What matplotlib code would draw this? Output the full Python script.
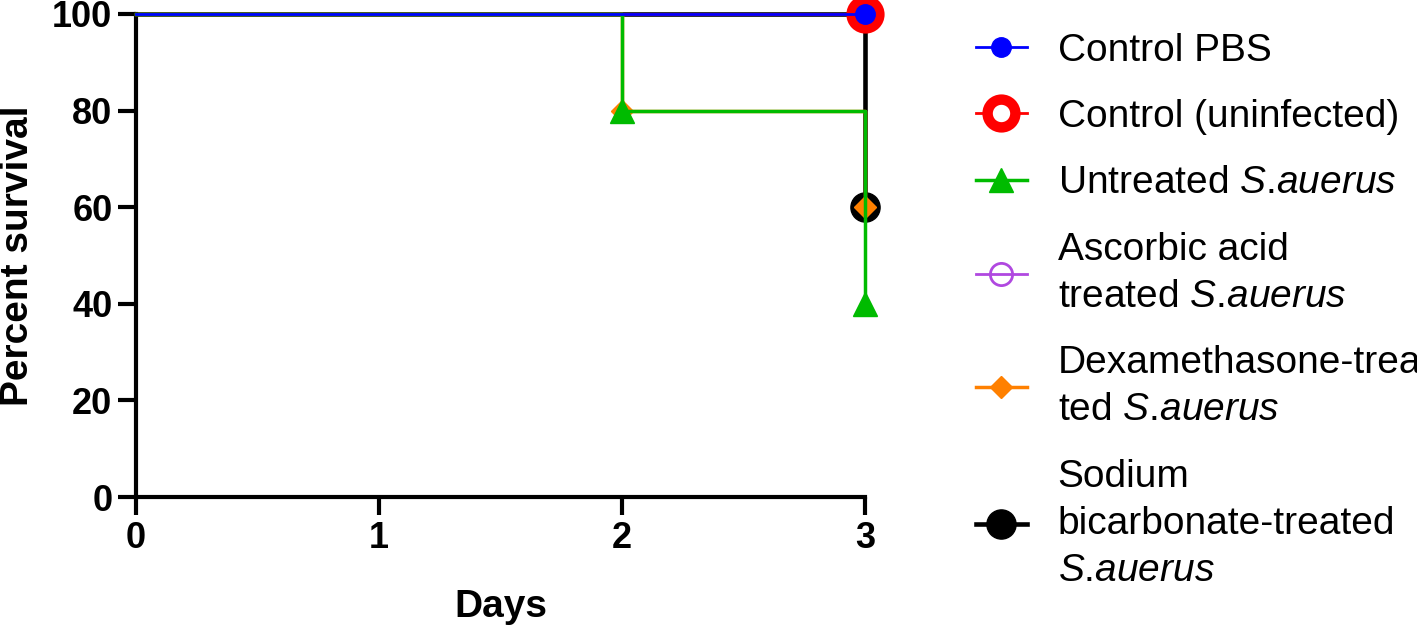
import matplotlib
matplotlib.use("Agg")
from matplotlib import pyplot as plt

plt.rcParams['font.family'] = ['Liberation Sans', 'DejaVu Sans']
plt.rcParams['mathtext.fontset'] = 'custom'
plt.rcParams['mathtext.rm'] = 'Liberation Sans'
plt.rcParams['mathtext.it'] = 'Liberation Sans:italic'

# survival data (days, percent survival)
pbs_days = [0, 3]
pbs_surv = [100, 100]
uninf_days = [0, 3]
uninf_surv = [100, 100]
untreated_days = [0, 2, 3]
untreated_surv = [100, 80, 40]
ascorbic_days = [0, 3]
ascorbic_surv = [100, 100]
dexa_days = [0, 2, 3]
dexa_surv = [100, 80, 60]
sodium_days = [0, 3]
sodium_surv = [100, 60]

sa = '$\\it{S}$.$\\it{auerus}$'
labels = ['Control PBS',
          'Control (uninfected)',
          'Untreated ' + sa,
          'Ascorbic acid\ntreated ' + sa,
          'Dexamethasone-trea\nted ' + sa,
          'Sodium\nbicarbonate-treated\n' + sa]

fig = plt.figure(figsize=(14.17, 6.27), dpi=100)
ax = fig.add_axes([0.096, 0.2073, 0.5145, 0.7704])

h = {}
# zorder chosen so the overlaps look like the original
h[5] = ax.plot(sodium_days, sodium_surv, drawstyle='steps-post', color='black', lw=3.3,
               marker='o', ms=21, markevery=slice(1, None), clip_on=False, zorder=2)[0]
h[1] = ax.plot(uninf_days, uninf_surv, drawstyle='steps-post', color='red', lw=2,
               marker='o', ms=20, mfc='white', mec='red', mew=7.5, markevery=slice(1, None),
               clip_on=False, zorder=3)[0]
h[3] = ax.plot(ascorbic_days, ascorbic_surv, drawstyle='steps-post', color='#b048e0', lw=2,
               marker='o', ms=16, mfc='none', mec='#b048e0', mew=2, markevery=slice(1, None),
               clip_on=False, zorder=2.5)[0]
h[4] = ax.plot(dexa_days, dexa_surv, drawstyle='steps-post', color='#ff8000', lw=2.5,
               marker='D', ms=11, markevery=slice(1, None), clip_on=False, zorder=4)[0]
h[2] = ax.plot(untreated_days, untreated_surv, drawstyle='steps-post', color='#00bb00', lw=2.5,
               marker='^', ms=17, markevery=slice(1, None), clip_on=False, zorder=5)[0]
h[0] = ax.plot(pbs_days, pbs_surv, drawstyle='steps-post', color='#0000ff', lw=2,
               marker='o', ms=14, markevery=slice(1, None), clip_on=False, zorder=6)[0]

ax.set_xlim(0, 3)
ax.set_ylim(0, 100)
ax.set_xticks([0, 1, 2, 3])
ax.set_yticks([0, 20, 40, 60, 80, 100])
for s in ['top', 'right']:
    ax.spines[s].set_visible(False)
for s in ['left', 'bottom']:
    ax.spines[s].set_linewidth(3)
ax.tick_params(width=3, length=13, labelsize=26, direction='out', pad=4)
for t in ax.get_xticklabels() + ax.get_yticklabels():
    t.set_fontweight('bold')
ax.set_xlabel('Days', fontsize=28, fontweight='bold', labelpad=24)
ax.set_ylabel('Percent survival', fontsize=28, fontweight='bold', labelpad=12)

leg = ax.legend([h[i] for i in range(6)], labels, loc='upper left',
                bbox_to_anchor=(0.6885, 0.948), bbox_transform=fig.transFigure,
                frameon=False, fontsize=28, handlelength=1.33, handletextpad=0.78,
                labelspacing=0.78, borderaxespad=0, borderpad=0)
for t in leg.get_texts():
    t.set_linespacing(1.4)

plt.savefig('out.png', dpi=100)
